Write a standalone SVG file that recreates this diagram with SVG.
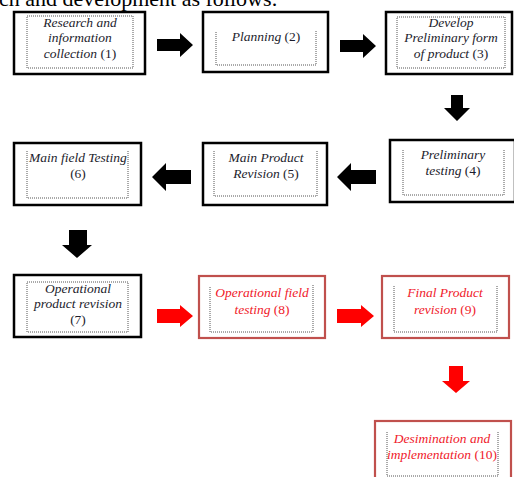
<svg xmlns="http://www.w3.org/2000/svg" width="514" height="477" viewBox="0 0 514 477">
<style>
.ob{fill:#fff;stroke:#000;stroke-width:2.5}
.rb{fill:#fff;stroke:#c0504d;stroke-width:2.2}
.in{fill:none;stroke:#555;stroke-width:1;stroke-dasharray:1 1}
.t{font-family:"Liberation Serif",serif;font-style:italic;font-size:13.5px;text-anchor:middle;fill:#1c1c2c}
.r{fill:#f0202a}
.n{font-style:normal}
.ba{fill:#000}
.ra{fill:#f00}
</style>
<text x="-1" y="6" font-family="Liberation Serif,serif" font-size="22" fill="#000">ch and development as follows:</text>
<g id="connectors">
<path class="ba" d="M157,39 H180 V33 L193,45 L180,57 V51 H157 Z"/>
<path class="ba" d="M340,40 H363 V34 L376,46 L363,58 V52 H340 Z"/>
<path class="ba" d="M451,95 H463 V108 H470 L457,121 L444,108 H451 Z"/>
<path class="ba" d="M376,170 H351 V163 L337,177 L351,191 V184 H376 Z"/>
<path class="ba" d="M191,170 H166 V163 L152,177 L166,191 V184 H191 Z"/>
<path class="ba" d="M69,230 H87 V245 H92 L77,258 L62,245 H69 Z"/>
<path class="ra" d="M157,309 H180 V305 L193,316 L180,327 V323 H157 Z"/>
<path class="ra" d="M337,309 H361 V305 L374,316 L361,327 V323 H337 Z"/>
<path class="ra" d="M449,366 H463 V381 H470 L456,393 L442,381 H449 Z"/>
</g>
<g id="n1">
<rect class="ob" x="14" y="12" width="131" height="62"/>
<rect class="in" x="27" y="16" width="106" height="52"/>
<text class="t" x="80" y="27">Research and</text>
<text class="t" x="80" y="42">information</text>
<text class="t" x="80" y="58">collection <tspan class="n">(1)</tspan></text>
</g>
<g id="n2">
<rect class="ob" x="203" y="12" width="125" height="60"/>
<path class="in" d="M216,32 V65 H316 V30"/>
<text class="t" x="266" y="41">Planning <tspan class="n">(2)</tspan></text>
</g>
<g id="n3">
<rect class="ob" x="386" y="12" width="126" height="62"/>
<rect class="in" x="397" y="17" width="108" height="51"/>
<text class="t" x="451" y="27">Develop</text>
<text class="t" x="451" y="42">Preliminary form</text>
<text class="t" x="451" y="58">of product <tspan class="n">(3)</tspan></text>
</g>
<g id="n4">
<rect class="ob" x="390" y="140" width="125" height="62"/>
<path class="in" d="M403,150 V195 H504 V150"/>
<text class="t" x="453" y="159">Preliminary</text>
<text class="t" x="453" y="175">testing <tspan class="n">(4)</tspan></text>
</g>
<g id="n5">
<rect class="ob" x="203" y="143" width="124" height="62"/>
<path class="in" d="M214,151 V196 H317 V150"/>
<text class="t" x="266" y="162">Main Product</text>
<text class="t" x="266" y="178">Revision <tspan class="n">(5)</tspan></text>
</g>
<g id="n6">
<rect class="ob" x="14" y="143" width="127" height="62"/>
<path class="in" d="M27,151 V198 H128 V151"/>
<text class="t" x="78" y="162">Main field Testing</text>
<text class="t" x="78" y="178"><tspan class="n">(6)</tspan></text>
</g>
<g id="n7">
<rect class="ob" x="14" y="275" width="127" height="62"/>
<rect class="in" x="27" y="282" width="101" height="50"/>
<text class="t" x="78" y="293">Operational</text>
<text class="t" x="78" y="308">product revision</text>
<text class="t" x="78" y="324"><tspan class="n">(7)</tspan></text>
</g>
<g id="n8">
<rect class="rb" x="199" y="276" width="126" height="62"/>
<path class="in" d="M210,287 V332 H313 V285"/>
<text class="t r" x="262" y="297">Operational field</text>
<text class="t r" x="262" y="314">testing <tspan class="n">(8)</tspan></text>
</g>
<g id="n9">
<rect class="rb" x="382" y="276" width="127" height="62"/>
<path class="in" d="M394,286 V332 H497 V286"/>
<text class="t r" x="445" y="297">Final Product</text>
<text class="t r" x="445" y="314">revision <tspan class="n">(9)</tspan></text>
</g>
<g id="n10">
<rect class="rb" x="375" y="421" width="136" height="70"/>
<path class="in" d="M387,432 V476 H498 V432"/>
<text class="t r" x="442" y="443">Desimination and</text>
<text class="t r" x="442" y="459">implementation <tspan class="n">(10)</tspan></text>
</g>
</svg>
